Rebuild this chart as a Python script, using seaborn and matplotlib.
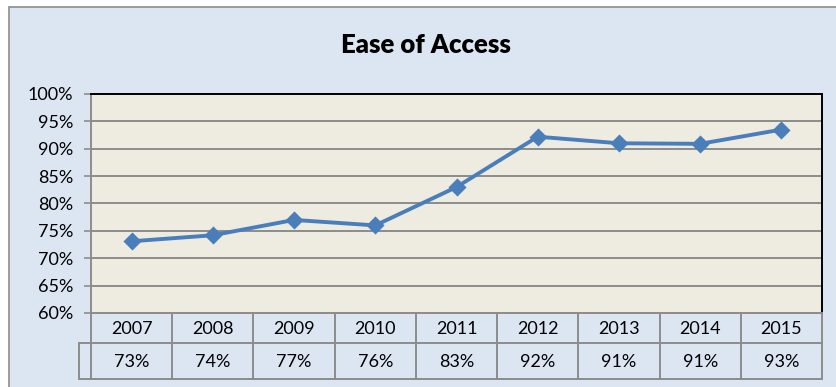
import matplotlib
matplotlib.use("Agg")
import matplotlib.pyplot as plt
import seaborn as sns
import pandas as pd
from matplotlib.patches import Rectangle
from matplotlib.lines import Line2D

years = ["2007", "2008", "2009", "2010", "2011", "2012", "2013", "2014", "2015"]
values = [73.1, 74.2, 77.0, 76.0, 83.0, 92.2, 91.0, 90.9, 93.5]
table_labels = ["73%", "74%", "77%", "76%", "83%", "92%", "91%", "91%", "93%"]
yticks = [60, 65, 70, 75, 80, 85, 90, 95, 100]
title = "Ease of Access"

sns.set_theme(style="white")
plt.rcParams['font.family'] = ['Lato', 'DejaVu Sans']

W, H = 836, 387
fig = plt.figure(figsize=(W / 100, H / 100), dpi=100)
bg = "#DCE6F2"
fig.patch.set_facecolor("white")
# outer chart border
fig.patches.append(Rectangle((9 / W, -0.02), (W - 9) / W + 0.01, (H - 7) / H + 0.02,
                             transform=fig.transFigure, facecolor=bg,
                             edgecolor="#8C8C8C", linewidth=1.2, zorder=-5))

x0, x1, yt, yb = 91, 822, 94, 313
ax = fig.add_axes([x0 / W, 1 - yb / H, (x1 - x0) / W, (yb - yt) / H])
ax.set_facecolor("#EEECE1")

df = pd.DataFrame({"year": years, "value": values})
for y in yticks:
    ax.axhline(y, color="#8C8C8C", linewidth=1.4, zorder=1)
sns.pointplot(data=df, x="year", y="value", ax=ax, color="#4A7EBB",
              markers="D", linestyles="-", errorbar=None, markersize=7,
              linewidth=2.8, zorder=3)
ax.set_xlim(-0.5, len(years) - 0.5)
ax.set_ylim(60, 100)
ax.set_yticks(yticks)
ax.set_yticklabels([f"{v}%" for v in yticks], fontsize=13, color="black")
ax.tick_params(axis="y", length=5, width=1.2, color="#8C8C8C", pad=8, left=True)
ax.set_xticks([])
ax.set_xlabel("")
ax.set_ylabel("")
for s in ["left", "bottom"]:
    ax.spines[s].set_color("#8C8C8C")
    ax.spines[s].set_linewidth(1.4)
for s in ["top", "right"]:
    ax.spines[s].set_color("black")
    ax.spines[s].set_linewidth(1.4)

# data table
tr = ax.get_xaxis_transform()
ph = yb - yt
def ay(py):
    return (yb - py) / ph

r1, r2, r3 = 313, 343, 379
gc = "#8C8C8C"
lw = 1.4
def seg(xs, ys):
    ax.add_line(Line2D(xs, ys, transform=tr, color=gc, linewidth=lw, clip_on=False))

n = len(years)
xl = -0.5 - 12 / ((x1 - x0) / n)
seg([xl, n - 0.5], [ay(r2), ay(r2)])
seg([xl, n - 0.5], [ay(r3), ay(r3)])
seg([xl, xl], [ay(r2), ay(r3)])
for i in range(n + 1):
    seg([i - 0.5, i - 0.5], [ay(r1), ay(r3)])
for i in range(n):
    ax.text(i, ay((r1 + r2) / 2 + 1), years[i], transform=tr, ha="center",
            va="center", fontsize=13, color="black")
    ax.text(i, ay((r2 + r3) / 2 + 1), table_labels[i], transform=tr, ha="center",
            va="center", fontsize=13, color="black")

fig.text(426 / W, 1 - 45 / H, title, ha="center", va="center",
         fontsize=18.5, fontweight="heavy", color="black")

fig.savefig("out.png", dpi=100, facecolor=fig.get_facecolor())
